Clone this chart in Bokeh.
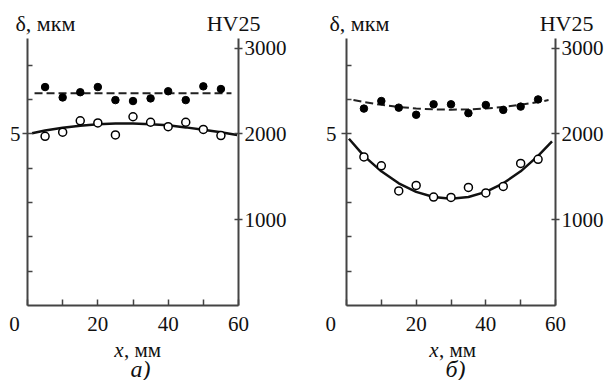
from bokeh.plotting import figure
from bokeh.models import Range1d, LinearAxis, FixedTicker, Label
from bokeh.layouts import row, column
from bokeh.embed import file_html
from bokeh.resources import INLINE

# ---------------- data ----------------
x_pts = [5, 10, 15, 20, 25, 30, 35, 40, 45, 50, 55]

# panel a
hv_a = [2546, 2425, 2486, 2546, 2394, 2383, 2414, 2497, 2394, 2554, 2523]
delta_a = [4.93, 5.05, 5.38, 5.32, 4.97, 5.50, 5.34, 5.21, 5.34, 5.13, 4.95]
fit_hv_a_x = [2, 58]
fit_hv_a = [2474, 2474]
fit_d_a_x = [1.3, 5, 10, 15, 20, 25, 30, 35, 40, 45, 50, 55, 59.6]
fit_d_a = [5.02, 5.10, 5.18, 5.24, 5.28, 5.30, 5.30, 5.28, 5.25, 5.19, 5.12, 5.05, 4.97]

# panel b
hv_b = [2295, 2383, 2306, 2223, 2345, 2345, 2242, 2337, 2280, 2318, 2402]
delta_b = [4.33, 4.07, 3.34, 3.50, 3.16, 3.15, 3.44, 3.28, 3.47, 4.14, 4.26]
fit_hv_b_x = [2, 5, 10, 15, 20, 25, 30, 35, 40, 45, 50, 55, 58]
fit_hv_b = [2394, 2371, 2339, 2314, 2296, 2286, 2282, 2286, 2296, 2314, 2339, 2371, 2394]
fit_d_b_x = [0.7, 5, 10, 15, 20, 25, 30, 35, 40, 45, 50, 55, 59]
fit_d_b = [4.86, 4.36, 3.91, 3.56, 3.31, 3.16, 3.11, 3.16, 3.31, 3.56, 3.91, 4.36, 4.78]

x_ticks = [0, 20, 40, 60]
x_minor = [10, 30, 50]
d_ticks = [5]
d_minor = [1, 2, 3, 4, 6, 7]
hv_ticks = [1000, 2000, 3000]

y_label = "δ, мкм"
hv_label = "HV25"
x_var = "x"
x_unit = ", мм"
letters = ["а)", "б)"]

FONT = "Liberation Serif"
AX = "#444444"
TXT = "#111111"
W = 606
HEAD_H = 35
TOP_PAD = 3
MAIN_H = 303
FOOT_H = 42
SHIFT = 7  # compensation for label baseline placement


def panel(width, bl, br, hv, delta, fhx, fhv, fdx, fdv, zero_pad, std5):
    p = figure(width=width, height=MAIN_H, x_range=Range1d(0, 60), y_range=Range1d(0, 7.78),
               output_backend="svg", toolbar_location=None, title=None,
               min_border_left=bl, min_border_right=br, min_border_top=TOP_PAD,
               min_border_bottom=29)
    p.extra_y_ranges = {"hv": Range1d(0, 3112)}
    p.outline_line_color = None
    p.xgrid.visible = False
    p.ygrid.visible = False

    xa = p.xaxis[0]
    xa.ticker = FixedTicker(ticks=x_ticks, minor_ticks=x_minor)
    xa.major_label_overrides = {0: "0" + "\u00a0" * zero_pad}
    xa.major_tick_in = 6
    xa.major_tick_out = 0
    xa.minor_tick_in = 6
    xa.minor_tick_out = 0
    xa.major_label_standoff = 6

    ya = p.yaxis[0]
    ya.ticker = FixedTicker(ticks=d_ticks, minor_ticks=d_minor)
    ya.major_tick_in = 5
    ya.major_tick_out = 5
    ya.minor_tick_in = 5
    ya.minor_tick_out = 0
    ya.major_label_standoff = std5

    ra = LinearAxis(y_range_name="hv", ticker=FixedTicker(ticks=hv_ticks, minor_ticks=[]))
    ra.major_tick_in = 4
    ra.major_tick_out = 4
    ra.minor_tick_in = 0
    ra.minor_tick_out = 0
    ra.major_label_standoff = 2
    p.add_layout(ra, "right")

    for a in (xa, ya, ra):
        a.axis_line_color = AX
        a.axis_line_width = 2
        a.major_tick_line_color = AX
        a.minor_tick_line_color = AX
        a.major_tick_line_width = 1.5
        a.minor_tick_line_width = 1.5
        a.major_label_text_font = FONT
        a.major_label_text_font_size = "21px"
        a.major_label_text_color = TXT

    p.line(fhx, fhv, y_range_name="hv", line_color="#222222", line_width=2, line_dash="8 4")
    p.line(fdx, fdv, line_color="#111111", line_width=2.5)
    p.scatter(x_pts, hv, y_range_name="hv", size=7.5, fill_color="black", line_color="black")
    p.scatter(x_pts, delta, size=8, fill_color="white", line_color="black", line_width=1.5)
    return p


def strip(h):
    s = figure(width=W, height=h, x_range=Range1d(0, W), y_range=Range1d(0, h),
               output_backend="svg", toolbar_location=None, title=None,
               min_border=0, min_border_left=0, min_border_right=0,
               min_border_top=0, min_border_bottom=0,
               x_axis_type=None, y_axis_type=None)
    s.outline_line_color = None
    s.xgrid.visible = False
    s.ygrid.visible = False
    return s


def lab(s, h, x, y, t, align="left", style="normal", size="21px"):
    # y is the wanted baseline, measured from the strip's top edge
    s.add_layout(Label(x=x, y=h - (y - SHIFT), text=t, text_font=FONT, text_font_size=size,
                       text_font_style=style, text_align=align,
                       text_baseline="alphabetic", text_color=TXT))


pa = panel(300, 27, 62, hv_a, delta_a, fit_hv_a_x, fit_hv_a, fit_d_a_x, fit_d_a, 5, 2)
pb = panel(306, 46, 49, hv_b, delta_b, fit_hv_b_x, fit_hv_b, fit_d_b_x, fit_d_b, 6, 5)

head = strip(HEAD_H)
lab(head, HEAD_H, 15, 30, y_label, size="22px")
lab(head, HEAD_H, 260, 30, hv_label, align="right", size="22px")
lab(head, HEAD_H, 329, 30, y_label, size="22px")
lab(head, HEAD_H, 593, 30, hv_label, align="right", size="22px")

foot = strip(FOOT_H)
lab(foot, FOOT_H, 123, 18, x_var, align="right", style="italic")
lab(foot, FOOT_H, 123.5, 18, x_unit)
lab(foot, FOOT_H, 438, 18, x_var, align="right", style="italic")
lab(foot, FOOT_H, 438.5, 18, x_unit)
lab(foot, FOOT_H, 140, 37, letters[0], align="center", style="italic", size="24px")
lab(foot, FOOT_H, 455, 37, letters[1], align="center", style="italic", size="24px")

layout = column(head, row(pa, pb), foot)
open("out.html", "w").write(file_html(layout, INLINE))
